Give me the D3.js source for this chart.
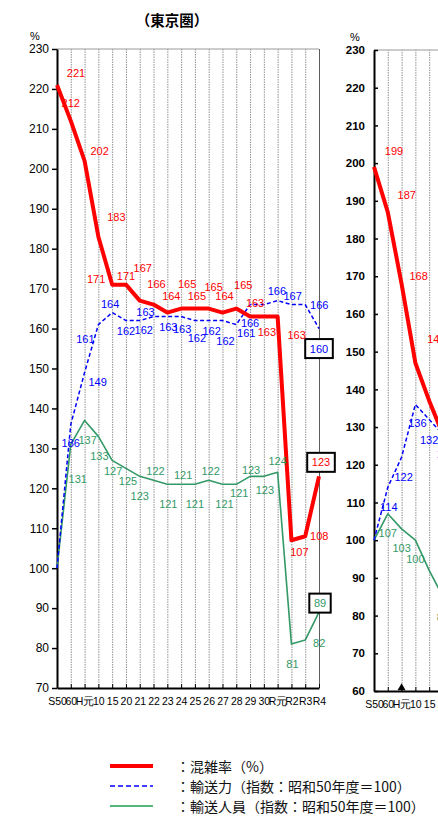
<!DOCTYPE html>
<html>
<head>
<meta charset="utf-8">
<script src="https://cdn.jsdelivr.net/npm/d3@7"></script>
<style>
  body { margin: 0; background: #fff; }
  svg { display: block; font-family: "Liberation Sans", Arial, sans-serif; }
  .jp { font-family: "Noto Sans CJK JP", sans-serif; }
</style>
</head>
<body>
<svg id="chart" width="438" height="819"></svg>
<script>
// fiscal years on the x axis
const years = ['S50', '60', 'H元', '10', '15', '20', '21', '22', '23', '24', '25', '26', '27', '28', '29', '30', 'R元', 'R2', 'R3', 'R4']

// 東京圏
const tokyoCongestion = [221, 212, 202, 183, 171, 171, 167, 166, 164, 165, 165, 165, 164, 165, 163, 163, 163, 107, 108, 123]
const tokyoCapacity = [100, 136, 149, 161, 164, 162, 162, 163, 163, 163, 162, 162, 162, 161, 166, 166, 167, 166, 166, 160]
const tokyoRiders = [100, 131, 137, 133, 127, 125, 123, 122, 121, 121, 121, 122, 121, 121, 123, 123, 124, 81, 82, 89]
const tokyoTicks = [70, 80, 90, 100, 110, 120, 130, 140, 150, 160, 170, 180, 190, 200, 210, 220, 230]

// second panel, only the part that shows inside the frame
const osakaCongestion = [199, 187, 168, 147, 137, 128]
const osakaCapacity = [100, 114, 122, 136, 132, 128]
const osakaRiders = [100, 107, 103, 100, 92, 85]
const osakaTicks = [60, 70, 80, 90, 100, 110, 120, 130, 140, 150, 160, 170, 180, 190, 200, 210, 220, 230]

const legendLabels = ['：混雑率（%）', '：輸送力（指数：昭和50年度＝100）', '：輸送人員（指数：昭和50年度＝100）']

// label placement relative to its point (null = no label)
const tokyoRedNudge = [[19, -12], [0, -18], [15, -10], [18, -20], [-16, -6], [0, -9], [3, -33], [3, -21], [4, -17], [6, -25],
  [2, -13], [5, -22], [2, -17], [7, -24], [5, -14], [3, 15], [19, 18], [8, 12], [14, 0], [2, -14]]
const tokyoBlueNudge = [null, [0, 19], [13, 10], [-13, 14], [-2, -9], [0, 10], [4, 9], [-8, -5], [1, 10], [1, 12],
  [2, 17], [3, 10], [3, 20], [10, 8], [0, 18], [13, -14], [15, -5], null, [14, 0], [0, 20]]
const tokyoGreenNudge = [null, [7, 35], [3, 20], [1, 20], [1, 11], [2, 13], [0, 20], [2, -9], [1, 20], [2, -9],
  [0, 20], [2, -9], [2, 20], [3, 9], [1, -6], [1, 14], [0, -11], [1, 20], [14, 3], [1, -9]]
const osakaRedNudge = [[20, -16], [19, -17], [17, -8], [21, -24], null, null]
const osakaBlueNudge = [null, [1, 20], [2, 20], [2, 19], [0, 20], [3, 19]]
const osakaGreenNudge = [null, [0, 19], [0, 19], [0, 19], null, [0, 20]]

const RED = '#ff0000'
const BLUE = '#0000ff'
const GREEN = '#339966'

const svg = d3.select('#chart')

function drawPanel (cfg) {
  const g = svg.append('g')
  const x = d3.scalePoint().domain(years).range([cfg.left, cfg.left + 19 * 13.79])
  const y = d3.scaleLinear().domain(cfg.yDomain).range([cfg.bottom, cfg.top])

  // dotted verticals
  const grid = g.append('g')
      .attr('transform', 'translate(0,' + cfg.bottom + ')')
      .call(d3.axisBottom(x).tickSize(-(cfg.bottom - cfg.top)).tickFormat(''))
  grid.select('.domain').remove()
  grid.selectAll('line')
      .attr('stroke', '#777')
      .attr('stroke-width', 0.8)
      .attr('stroke-dasharray', '1.5,1')
  grid.selectAll('.tick').filter(d => d === 'R4').select('line')
      .attr('stroke', '#333').attr('stroke-dasharray', null)

  // top border
  g.append('line')
      .attr('x1', x.range()[0]).attr('x2', x.range()[1])
      .attr('y1', cfg.top).attr('y2', cfg.top)
      .attr('stroke', '#999').attr('stroke-width', 1)

  // y axis
  const yAxis = g.append('g')
      .attr('transform', 'translate(' + cfg.left + ',0)')
      .call(d3.axisLeft(y).tickValues(cfg.ticks).tickSizeInner(cfg.tickIn).tickSizeOuter(0).tickPadding(cfg.tickPad))
  yAxis.select('.domain').attr('stroke', '#000').attr('stroke-width', 2)
  yAxis.selectAll('line').attr('stroke', '#000').attr('stroke-width', 1.5)
  yAxis.selectAll('text')
      .attr('fill', '#000')
      .style('font-size', cfg.tickFont)
      .style('font-weight', cfg.tickWeight)
      .style('font-family', '"Liberation Sans", Arial, sans-serif')

  // x axis
  const xAxis = g.append('g')
      .attr('transform', 'translate(0,' + cfg.bottom + ')')
      .call(d3.axisBottom(x).tickSizeInner(-4).tickSizeOuter(0).tickPadding(10))
  xAxis.select('.domain').attr('stroke', '#000').attr('stroke-width', 2)
  xAxis.selectAll('line').attr('stroke', '#000')
  xAxis.selectAll('text')
      .attr('fill', '#000')
      .style('font-size', '10.5px')
      .style('font-family', '"Liberation Sans", Arial, sans-serif')

  // % unit
  g.append('text')
      .attr('x', cfg.left - cfg.unitDx).attr('y', cfg.top - 9)
      .attr('text-anchor', 'middle')
      .style('font-size', '11px')
      .text('%')

  if (cfg.marker) {
    g.append('path')
        .attr('d', d3.symbol(d3.symbolTriangle).size(28))
        .attr('transform', 'translate(' + x(cfg.marker) + ',' + (cfg.bottom - 3) + ')')
        .attr('fill', '#000')
  }

  const line = d3.line()
      .x((d, i) => x(years[i]))
      .y(d => y(d))

  const series = [
    {values: cfg.riders, color: GREEN, width: 1.6, dash: null, nudge: cfg.greenNudge},
    {values: cfg.capacity, color: BLUE, width: 1.5, dash: '4,2.5', nudge: cfg.blueNudge},
    {values: cfg.congestion, color: RED, width: 4, dash: null, nudge: cfg.redNudge}
  ]

  series.forEach(function (s) {
    g.append('path')
        .datum(s.values)
        .attr('d', line)
        .attr('fill', 'none')
        .attr('stroke', s.color)
        .attr('stroke-width', s.width)
        .attr('stroke-linejoin', 'round')
        .attr('stroke-dasharray', s.dash)
  })

  series.forEach(function (s) {
    s.values.forEach(function (v, i) {
      const n = s.nudge[i]
      if (!n) return
      const cx = x(years[i]) + n[0]
      const cy = y(v) + n[1]
      const boxed = cfg.boxed && i === years.length - 1
      if (boxed) {
        const w = String(v).length * 6.2 + 9
        g.append('rect')
            .attr('x', cx - w / 2).attr('y', cy - 9.5)
            .attr('width', w).attr('height', 19)
            .attr('fill', '#fff').attr('stroke', '#000').attr('stroke-width', 2)
      }
      g.append('text')
          .attr('x', cx).attr('y', cy)
          .attr('text-anchor', 'middle')
          .attr('dominant-baseline', 'central')
          .attr('fill', s.color)
          .style('font-size', '11px')
          .text(v)
    })
  })
}

drawPanel({
  left: 57, top: 49, bottom: 688, yDomain: [70, 230], ticks: tokyoTicks,
  tickIn: 5, tickPad: 3, tickFont: '12px', tickWeight: 'normal', unitDx: 22,
  congestion: tokyoCongestion, capacity: tokyoCapacity, riders: tokyoRiders,
  redNudge: tokyoRedNudge, blueNudge: tokyoBlueNudge, greenNudge: tokyoGreenNudge,
  boxed: true
})

drawPanel({
  left: 374, top: 50, bottom: 691, yDomain: [60, 230], ticks: osakaTicks,
  tickIn: -4, tickPad: 9, tickFont: '11.5px', tickWeight: 'bold', unitDx: 19,
  congestion: osakaCongestion, capacity: osakaCapacity, riders: osakaRiders,
  redNudge: osakaRedNudge, blueNudge: osakaBlueNudge, greenNudge: osakaGreenNudge,
  boxed: false, marker: 'H元'
})

// title
svg.append('text')
    .attr('class', 'jp')
    .attr('x', 172).attr('y', 19)
    .attr('text-anchor', 'middle')
    .attr('dominant-baseline', 'central')
    .style('font-size', '14.5px')
    .style('font-weight', 'bold')
    .text('（東京圏）')

// legend
const legendStyles = [
  {color: RED, width: 4, dash: null},
  {color: BLUE, width: 1.5, dash: '5,3'},
  {color: '#55b67a', width: 1.8, dash: null}
]
const legend = svg.append('g')
legendLabels.forEach(function (label, i) {
  const ly = 766 + i * 20
  legend.append('line')
      .attr('x1', 110).attr('x2', 153)
      .attr('y1', ly).attr('y2', ly)
      .attr('stroke', legendStyles[i].color)
      .attr('stroke-width', legendStyles[i].width)
      .attr('stroke-dasharray', legendStyles[i].dash)
  legend.append('text')
      .attr('class', 'jp')
      .attr('x', 176).attr('y', ly)
      .attr('dominant-baseline', 'central')
      .attr('fill', '#111')
      .style('font-size', '14px')
      .text(label)
})
</script>
</body>
</html>
